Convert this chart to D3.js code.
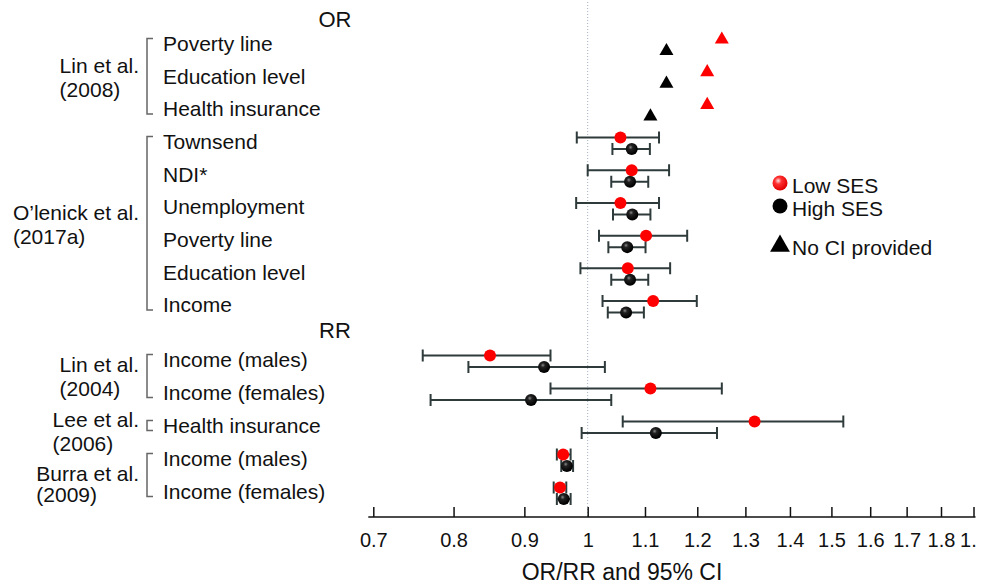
<!DOCTYPE html>
<html>
<head>
<meta charset="utf-8">
<script src="https://cdn.jsdelivr.net/npm/d3@7"></script>
<style>
	body { margin: 0; background: #fff; }
	svg text { font-family: "Liberation Sans", Arial, sans-serif; fill: #111; }
</style>
</head>
<body>
<div id="chart"></div>
<script>
// DATA
const rowLabels = ["Poverty line", "Education level", "Health insurance",
	"Townsend", "NDI*", "Unemployment", "Poverty line", "Education level", "Income",
	"Income (males)", "Income (females)", "Health insurance", "Income (males)", "Income (females)"];
const sections = ["OR", "RR"];
const rowSection = ["OR", "OR", "OR", "OR", "OR", "OR", "OR", "OR", "OR", "RR", "RR", "RR", "RR", "RR"];

const studyNames = ["Lin et al.", "O\u2019lenick et al.", "Lin et al.", "Lee et al.", "Burra et al."];
const studyYears = ["(2008)", "(2017a)", "(2004)", "(2006)", "(2009)"];
const studyRows = [[0, 2], [3, 8], [9, 10], [11, 11], [12, 13]];

// low SES (red) and high SES (black): estimate and 95% CI (null = no CI provided)
const lowEst  = [1.25, 1.22, 1.22, 1.056, 1.076, 1.056, 1.102, 1.069, 1.115, 0.85, 1.11, 1.32, 0.96, 0.955];
const lowLo   = [null, null, null, 0.982, 1.0, 0.981, 1.019, 0.988, 1.025, 0.76, 0.94, 1.06, 0.95, 0.945];
const lowHi   = [null, null, null, 1.126, 1.145, 1.126, 1.18, 1.147, 1.199, 0.94, 1.25, 1.53, 0.972, 0.965];
const highEst = [1.14, 1.14, 1.11, 1.076, 1.073, 1.077, 1.068, 1.073, 1.066, 0.93, 0.91, 1.12, 0.966, 0.961];
const highLo  = [null, null, null, 1.042, 1.04, 1.043, 1.035, 1.04, 1.034, 0.82, 0.77, 0.99, 0.957, 0.95];
const highHi  = [null, null, null, 1.109, 1.106, 1.11, 1.101, 1.106, 1.098, 1.029, 1.04, 1.24, 0.976, 0.972];

const tickValues = [0.7, 0.8, 0.9, 1, 1.1, 1.2, 1.3, 1.4, 1.5, 1.6, 1.7, 1.8, 1.9];
const legendLabels = ["Low SES", "High SES", "No CI provided"];
const axisTitle = "OR/RR and 95% CI";

// LAYOUT
const W = 989, H = 585;
const axisY = 517;
const barColor = "#2f3b3b";

const svg = d3.select("#chart").append("svg")
	.attr("width", W)
	.attr("height", H);

const defs = svg.append("defs");
const redGrad = defs.append("radialGradient").attr("id", "redBall")
	.attr("cx", "38%").attr("cy", "35%").attr("r", "65%");
redGrad.append("stop").attr("offset", "0%").attr("stop-color", "#ffe0e0");
redGrad.append("stop").attr("offset", "35%").attr("stop-color", "#ff3030");
redGrad.append("stop").attr("offset", "100%").attr("stop-color", "#e00000");
const blackGrad = defs.append("radialGradient").attr("id", "blackBall")
	.attr("cx", "40%").attr("cy", "35%").attr("r", "60%");
blackGrad.append("stop").attr("offset", "0%").attr("stop-color", "#8a8a8a");
blackGrad.append("stop").attr("offset", "30%").attr("stop-color", "#222");
blackGrad.append("stop").attr("offset", "100%").attr("stop-color", "#000");
// the original figure is cut at the right edge
defs.append("clipPath").attr("id", "edgeClip")
	.append("rect").attr("x", 0).attr("y", 0).attr("width", 977).attr("height", H);

const x = d3.scaleLog()
	.domain([0.7, 1.9])
	.range([373.3, 973.5]);

const yOR = d3.scaleLinear().domain([0, 8]).range([43.5, 305]);
const yRR = d3.scaleLinear().domain([9, 13]).range([359.5, 491.5]);
const rowY = i => rowSection[i] === "OR" ? yOR(i) : yRR(i);
const headerY = { OR: 19.5, RR: 330 };

// reference line at 1
svg.append("line")
	.attr("x1", x(1)).attr("x2", x(1))
	.attr("y1", 2).attr("y2", axisY)
	.attr("stroke", "#9fb0c0")
	.attr("stroke-width", 1)
	.attr("stroke-dasharray", "1,2");

// section headers
svg.selectAll(".header")
	.data(sections)
	.enter().append("text")
	.attr("class", "header")
	.attr("x", 335)
	.attr("y", d => headerY[d])
	.attr("dy", "0.35em")
	.attr("text-anchor", "middle")
	.style("font-size", "22px")
	.text(d => d);

// row labels
svg.selectAll(".rowlabel")
	.data(rowLabels)
	.enter().append("text")
	.attr("class", "rowlabel")
	.attr("x", 163)
	.attr("y", (d, i) => rowY(i))
	.attr("dy", "0.35em")
	.style("font-size", "21px")
	.text(d => d);

// study labels + brackets
let prevBottom = -Infinity;
studyRows.forEach((r, k) => {
	const top = rowY(r[0]) - 5;
	const bottom = rowY(r[1]) + 5;
	svg.append("path")
		.attr("d", `M153,${top}H147V${bottom}H153`)
		.attr("fill", "none")
		.attr("stroke", "#666")
		.attr("stroke-width", 1.5);

	const mid = (rowY(r[0]) + rowY(r[1])) / 2;
	const first = Math.max(mid - 11, rowY(r[0]) - 6, prevBottom + 30);
	const second = first + (k === studyRows.length - 1 ? 21 : 24);
	prevBottom = second;
	const t1 = svg.append("text")
		.attr("y", first)
		.attr("dy", "0.35em")
		.style("font-size", "21px")
		.text(studyNames[k]);
	const t2 = svg.append("text")
		.attr("y", second)
		.attr("dy", "0.35em")
		.style("font-size", "21px")
		.text(studyYears[k]);
	const w = Math.max(t1.node().getComputedTextLength(), t2.node().getComputedTextLength());
	t1.attr("x", 139 - w);
	t2.attr("x", 139 - w);
});

// axis
const axis = svg.append("g")
	.attr("clip-path", "url(#edgeClip)")
	.append("g")
	.attr("transform", `translate(0, ${axisY})`)
	.call(d3.axisBottom(x)
		.tickValues(tickValues)
		.tickFormat(d3.format("~g"))
		.tickSizeInner(-10)
		.tickSizeOuter(0)
		.tickPadding(16));
axis.select(".domain").remove();
axis.selectAll(".tick line").attr("stroke", "#111").attr("stroke-width", 1.5);
axis.selectAll(".tick text")
	.style("font-size", "20px")
	.style("font-family", "\"Liberation Sans\", Arial, sans-serif")
	.attr("fill", "#111");
axis.append("line")
	.attr("x1", x(0.7) - 5).attr("x2", x(1.9) + 2)
	.attr("stroke", "#111").attr("stroke-width", 1.5);

svg.append("text")
	.attr("x", 622)
	.attr("y", 580)
	.attr("text-anchor", "middle")
	.style("font-size", "23px")
	.text(axisTitle);

// marks
const series = [
	{ est: highEst, lo: highLo, hi: highHi, off: 7.5, tri: "#000", fill: "url(#blackBall)" },
	{ est: lowEst, lo: lowLo, hi: lowHi, off: -4, tri: "#ff0000", fill: "#ff0000" }
];
const triangle = d3.symbol().type(d3.symbolTriangle).size(85);

series.forEach(s => {
	const rows = d3.range(rowLabels.length);
	const withCI = rows.filter(i => s.lo[i] !== null);
	const noCI = rows.filter(i => s.lo[i] === null);
	const g = svg.append("g");

	g.selectAll(".ci")
		.data(withCI)
		.enter().append("path")
		.attr("d", i => {
			const yy = rowY(i) + s.off;
			const a = x(s.lo[i]), b = x(s.hi[i]);
			return `M${a},${yy - 6}V${yy + 6}M${a},${yy}H${b}M${b},${yy - 6}V${yy + 6}`;
		})
		.attr("fill", "none")
		.attr("stroke", barColor)
		.attr("stroke-width", 2);

	g.selectAll(".dot")
		.data(withCI)
		.enter().append("circle")
		.attr("cx", i => x(s.est[i]))
		.attr("cy", i => rowY(i) + s.off)
		.attr("r", 6)
		.attr("fill", s.fill);

	g.selectAll(".tri")
		.data(noCI)
		.enter().append("path")
		.attr("d", triangle)
		.attr("transform", i => `translate(${x(s.est[i])}, ${rowY(i) + s.off})`)
		.attr("fill", s.tri);
});

// legend
const legend = svg.append("g").attr("transform", "translate(780, 0)");
const legendY = [184, 207, 246];
legend.append("circle").attr("cx", 0).attr("cy", legendY[0] - 1).attr("r", 7.5).attr("fill", "url(#redBall)");
legend.append("circle").attr("cx", 0).attr("cy", legendY[1] - 1).attr("r", 7.5).attr("fill", "#000");
legend.append("path")
	.attr("d", d3.symbol().type(d3.symbolTriangle).size(170)())
	.attr("transform", `translate(0, ${legendY[2]})`)
	.attr("fill", "#000");
legend.selectAll(".legtext")
	.data(legendLabels)
	.enter().append("text")
	.attr("x", 12)
	.attr("y", (d, i) => legendY[i] + 2)
	.attr("dy", "0.35em")
	.style("font-size", "21px")
	.text(d => d);
</script>
</body>
</html>
